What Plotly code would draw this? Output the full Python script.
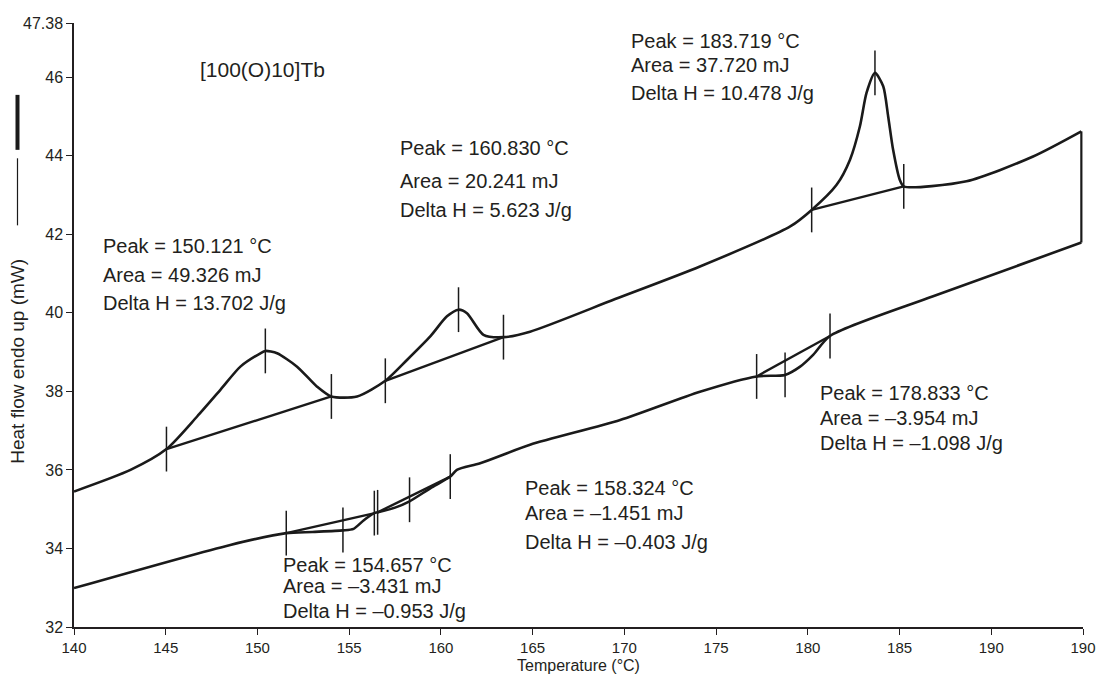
import plotly.graph_objects as go

# ---- heating (upper) curve ----
heat_t = [140.0, 143.08, 145.04, 146.71, 147.98, 149.07, 150.16, 150.43, 151.07, 152.16,
          153.25, 154.03, 155.43, 156.97, 158.15, 159.42, 160.33, 160.96, 161.42, 162.32,
          163.41, 164.86, 169.5, 174.12, 179.04, 180.21, 181.57, 182.30, 182.84, 183.20,
          183.66, 184.11, 184.38, 184.65, 185.01, 185.23, 188.65, 192.28, 194.91]
heat_q = [35.45, 36.00, 36.53, 37.36, 38.04, 38.63, 38.97, 39.03, 38.97, 38.63,
          38.12, 37.87, 37.87, 38.27, 38.80, 39.40, 39.91, 40.08, 39.99, 39.44,
          39.38, 39.52, 40.35, 41.18, 42.20, 42.62, 43.26, 43.90, 44.75, 45.60,
          46.11, 45.77, 45.00, 44.15, 43.39, 43.22, 43.35, 43.98, 44.62]

# ---- cooling (lower) curve ----
cool_t = [194.91, 186.83, 181.21, 180.29, 179.58, 178.76, 177.21, 174.12, 169.77, 164.86,
          162.14, 160.87, 160.51, 159.42, 158.29, 157.50, 156.55, 156.37, 155.80, 155.24,
          154.66, 153.00, 151.57, 148.52, 140.0]
cool_q = [41.79, 40.42, 39.41, 38.93, 38.63, 38.42, 38.38, 37.99, 37.27, 36.64,
          36.17, 36.00, 35.83, 35.53, 35.20, 35.04, 34.92, 34.90, 34.72, 34.50,
          34.46, 34.42, 34.39, 34.09, 32.99]

# ---- step joining the two curves at the end of the run ----
step_t = [194.91, 194.91]
step_q = [44.62, 41.79]

# ---- integration baselines (start, end) ----
base_t = [[145.04, 154.03], [156.97, 163.41], [180.21, 185.23],
          [151.57, 156.40], [156.55, 160.51], [177.21, 181.21]]
base_q = [[36.53, 37.87], [38.27, 39.38], [42.62, 43.22],
          [34.39, 34.90], [34.92, 35.83], [38.38, 39.41]]

# ---- vertical marker ticks ----
mark_t = [145.04, 150.43, 154.03, 156.97, 160.96, 163.41, 180.21, 183.66, 185.23,
          151.57, 154.66, 156.37, 156.55, 158.29, 160.51, 177.21, 178.76, 181.21]
mark_q = [36.53, 39.03, 37.87, 38.27, 40.08, 39.38, 42.62, 46.11, 43.22,
          34.39, 34.47, 34.90, 34.92, 35.24, 35.83, 38.38, 38.42, 39.41]

# ---- axis ticks ----
x_tickvals = [140, 145, 150, 155, 160, 165, 170, 175, 180, 185, 190, 195]
x_ticktext = ["140", "145", "150", "155", "160", "165", "170", "175", "180", "185", "190", "190"]
y_tickvals = [32, 34, 36, 38, 40, 42, 44, 46, 47.38]
y_ticktext = ["32", "34", "36", "38", "40", "42", "44", "46", "47.38"]

# ---- peak labels ----
label_lines = [
    ["Peak = 150.121 °C", "Area = 49.326 mJ", "Delta H = 13.702 J/g"],
    ["Peak = 160.830 °C", "Area = 20.241 mJ", "Delta H = 5.623 J/g"],
    ["Peak = 183.719 °C", "Area = 37.720 mJ", "Delta H = 10.478 J/g"],
    ["Peak = 178.833 °C", "Area = –3.954 mJ", "Delta H = –1.098 J/g"],
    ["Peak = 158.324 °C", "Area = –1.451 mJ", "Delta H = –0.403 J/g"],
    ["Peak = 154.657 °C", "Area = –3.431 mJ", "Delta H = –0.953 J/g"],
]
label_x = [141.45, 157.67, 170.26, 180.55, 164.48, 151.30]
label_y = [[41.71, 40.97, 40.25], [44.20, 43.36, 42.62], [46.93, 46.32, 45.60],
           [37.96, 37.32, 36.69], [35.54, 34.90, 34.17], [33.58, 33.04, 32.41]]

INK = "#1a1a1a"
TXT = "#231f20"
FONT = "Liberation Sans, Arial, sans-serif"

fig = go.Figure()

for xs, ys in [(heat_t, heat_q), (cool_t, cool_q)]:
    fig.add_trace(go.Scatter(x=xs, y=ys, mode="lines",
                             line=dict(color=INK, width=2.6, shape="spline", smoothing=0.7),
                             hoverinfo="skip", showlegend=False))

fig.add_trace(go.Scatter(x=step_t, y=step_q, mode="lines",
                         line=dict(color=INK, width=2.2), hoverinfo="skip", showlegend=False))

for bt, bq in zip(base_t, base_q):
    fig.add_trace(go.Scatter(x=bt, y=bq, mode="lines",
                             line=dict(color=INK, width=2.4), hoverinfo="skip", showlegend=False))

fig.add_trace(go.Scatter(x=mark_t, y=mark_q, mode="markers",
                         marker=dict(symbol="line-ns", size=32, color=INK,
                                     line=dict(color=INK, width=1.5)),
                         hoverinfo="skip", showlegend=False))

annotations = []
for lines, lx, lys in zip(label_lines, label_x, label_y):
    for txt, ly in zip(lines, lys):
        annotations.append(dict(x=lx, y=ly, xref="x", yref="y", text=txt, showarrow=False,
                                xanchor="left", yanchor="middle",
                                font=dict(family=FONT, size=20, color=TXT)))

annotations.append(dict(x=146.78, y=46.19, xref="x", yref="y", text="[100(O)10]Tb",
                        showarrow=False, xanchor="left", yanchor="middle",
                        font=dict(family=FONT, size=21, color=TXT)))

annotations.append(dict(x=-0.056, y=0.44, xref="paper", yref="paper",
                        text="Heat flow endo up (mW)", textangle=-90, showarrow=False,
                        xanchor="center", yanchor="middle",
                        font=dict(family=FONT, size=19, color=TXT)))

shapes = [
    dict(type="line", xref="paper", yref="paper", x0=-0.056, x1=-0.056, y0=0.790, y1=0.881,
         line=dict(color=INK, width=4)),
    dict(type="line", xref="paper", yref="paper", x0=-0.056, x1=-0.056, y0=0.665, y1=0.776,
         line=dict(color=INK, width=1.2)),
]

fig.update_layout(
    width=1098, height=679,
    margin=dict(l=73.5, r=14.5, t=23, b=52),
    paper_bgcolor="white", plot_bgcolor="white",
    font=dict(family=FONT, color=TXT),
    annotations=annotations, shapes=shapes,
    xaxis=dict(range=[140, 195], tickvals=x_tickvals, ticktext=x_ticktext, automargin=False,
               showgrid=False, zeroline=False, showline=True, linecolor=TXT, linewidth=1.5,
               ticks="outside", ticklen=6, tickwidth=1.2, tickcolor=TXT,
               tickfont=dict(size=15, family=FONT),
               title=dict(text="Temperature (°C)", font=dict(size=16, family=FONT), standoff=5)),
    yaxis=dict(range=[32, 47.38], tickvals=y_tickvals, ticktext=y_ticktext, automargin=False,
               showgrid=False, zeroline=False, showline=True, linecolor=TXT, linewidth=1.5,
               ticks="outside", ticklen=6, tickwidth=1.2, tickcolor=TXT,
               tickfont=dict(size=16, family=FONT)),
)

# remove the default page margin so the 1098x679 figure fills the window exactly
fig.write_html("out.html", config={"displayModeBar": False},
               post_script="document.body.style.margin='0';document.body.style.overflow='hidden';")
